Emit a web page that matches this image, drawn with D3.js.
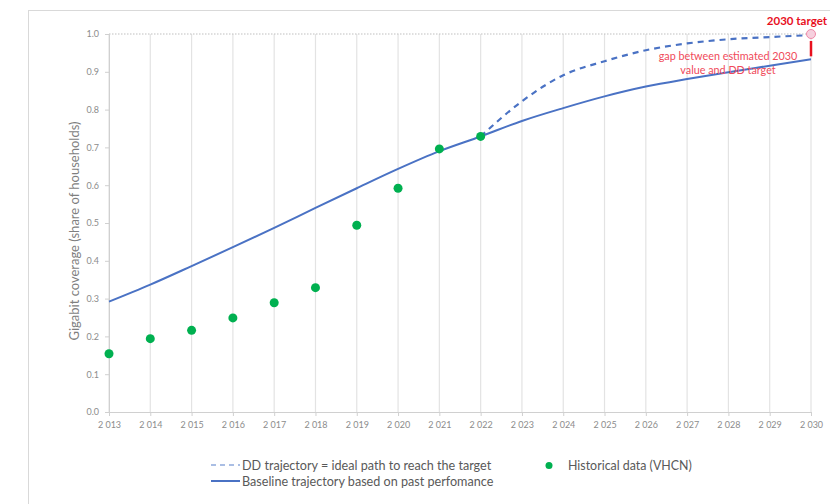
<!DOCTYPE html>
<html>
<head>
<meta charset="utf-8">
<script src="https://cdn.jsdelivr.net/npm/d3@7"></script>
<style>
  body { margin: 0; background: #fff; }
  text { font-family: Lato, "Open Sans", sans-serif; }
</style>
</head>
<body>
<div id="visualize"></div>
<script>
// Chart size
const width = 830;
const height = 504;

// Years on the x axis
const years = d3.range(2013, 2031);
const yTicks = [0, 0.1, 0.2, 0.3, 0.4, 0.5, 0.6, 0.7, 0.8, 0.9, 1.0];

// Historical data (VHCN)
const histYears = [2013, 2014, 2015, 2016, 2017, 2018, 2019, 2020, 2021, 2022];
const histValues = [0.154, 0.194, 0.216, 0.249, 0.289, 0.329, 0.494, 0.592, 0.696, 0.729];

// Baseline trajectory based on past performance
const baseYears = years;
const baseValues = [0.292, 0.337, 0.386, 0.436, 0.487, 0.54, 0.592, 0.643, 0.69, 0.729,
                    0.77, 0.804, 0.835, 0.861, 0.881, 0.899, 0.916, 0.933];

// DD trajectory = ideal path to reach the target
const ddYears = [2022, 2023, 2024, 2025, 2026, 2027, 2028, 2029, 2030];
const ddValues = [0.729, 0.822, 0.891, 0.928, 0.957, 0.975, 0.986, 0.992, 0.997];

const targetYear = 2030;
const targetValue = 1.0;

const svg = d3.select("#visualize")
    .append("svg")
    .attr("width", width)
    .attr("height", height);

// outer frame of the chart area
svg.append("rect")
    .attr("x", 28.5).attr("y", 10.5)
    .attr("width", 830).attr("height", 520)
    .attr("fill", "none")
    .attr("stroke", "#d9d9d9");

const x = d3.scaleLinear().domain([2013, 2030]).range([109, 811]);
const y = d3.scaleLinear().domain([0, 1]).range([412, 34]);

// vertical gridlines
svg.append("g")
    .selectAll("line")
    .data(years)
    .enter().append("line")
    .attr("x1", d => x(d)).attr("x2", d => x(d))
    .attr("y1", y(1)).attr("y2", y(0))
    .attr("stroke", "#e3e3e3")
    .attr("stroke-width", 1.2);

// dotted line at 1.0
svg.append("line")
    .attr("x1", x(2013)).attr("x2", x(2030))
    .attr("y1", y(1)).attr("y2", y(1))
    .attr("stroke", "#bfbfbf")
    .attr("stroke-dasharray", "1.5,1.5");

// y axis
const yAxis = svg.append("g")
    .attr("transform", `translate(${x(2013)},0)`)
    .call(d3.axisLeft(y).tickValues(yTicks).tickFormat(d3.format(".1f")).tickSize(4).tickPadding(6));

// x axis
const xAxis = svg.append("g")
    .attr("transform", `translate(0,${y(0)})`)
    .call(d3.axisBottom(x).tickValues(years)
        .tickFormat(d => String(d).slice(0, 1) + " " + String(d).slice(1))
        .tickSize(4).tickPadding(6));

[yAxis, xAxis].forEach(g => {
    g.select(".domain").attr("stroke", "#d0d0d0");
    g.selectAll(".tick line").attr("stroke", "#d0d0d0");
    g.selectAll(".tick text")
        .attr("fill", "#8c8c8c")
        .style("font-size", "9px")
        .style("font-family", "Lato, sans-serif");
});

// y axis title
svg.append("text")
    .attr("transform", "translate(79,231) rotate(-90)")
    .attr("text-anchor", "middle")
    .attr("fill", "#7f7f7f")
    .style("font-size", "13px")
    .text("Gigabit coverage (share of households)");

const line = d3.line()
    .x(d => x(d[0]))
    .y(d => y(d[1]))
    .curve(d3.curveMonotoneX);

// baseline trajectory
svg.append("path")
    .datum(baseYears.map((d, i) => [d, baseValues[i]]))
    .attr("d", line)
    .attr("fill", "none")
    .attr("stroke", "#4a72c4")
    .attr("stroke-width", 2);

// DD trajectory
svg.append("path")
    .datum(ddYears.map((d, i) => [d, ddValues[i]]))
    .attr("d", line)
    .attr("fill", "none")
    .attr("stroke", "#4a72c4")
    .attr("stroke-width", 2.2)
    .attr("stroke-dasharray", "6,5");

// historical dots
svg.append("g")
    .selectAll("circle")
    .data(histYears.map((d, i) => [d, histValues[i]]))
    .enter().append("circle")
    .attr("cx", d => x(d[0]))
    .attr("cy", d => y(d[1]))
    .attr("r", 4.5)
    .attr("fill", "#00b050");

// gap marker at 2030
svg.append("line")
    .attr("x1", x(targetYear)).attr("x2", x(targetYear))
    .attr("y1", y(targetValue) + 7)
    .attr("y2", y(baseValues[baseValues.length - 1]) - 3)
    .attr("stroke", "#e8101e")
    .attr("stroke-width", 2.5);

svg.append("circle")
    .attr("cx", x(targetYear))
    .attr("cy", y(targetValue))
    .attr("r", 4.5)
    .attr("fill", "#f6d0de")
    .attr("stroke", "#f08aa8")
    .attr("stroke-width", 1);

svg.append("text")
    .attr("x", 827).attr("y", 25)
    .attr("text-anchor", "end")
    .attr("fill", "#e8101e")
    .style("font-size", "11.5px")
    .style("font-weight", "bold")
    .text("2030 target");

const gapText = svg.append("text")
    .attr("text-anchor", "middle")
    .attr("fill", "#f04a5a")
    .style("font-size", "10.8px");
gapText.append("tspan").attr("x", 728).attr("y", 60).text("gap between estimated 2030");
gapText.append("tspan").attr("x", 728).attr("y", 74).text("value and DD target");

// legend
const legend = svg.append("g");

legend.append("line")
    .attr("x1", 211).attr("x2", 240)
    .attr("y1", 465).attr("y2", 465)
    .attr("stroke", "#8fa9dc")
    .attr("stroke-width", 1.3)
    .attr("stroke-dasharray", "5,4");
legend.append("text")
    .attr("x", 242).attr("y", 469.5)
    .attr("fill", "#595959")
    .style("font-size", "12.6px")
    .text("DD trajectory = ideal path to reach the target");

legend.append("line")
    .attr("x1", 211).attr("x2", 240)
    .attr("y1", 481).attr("y2", 481)
    .attr("stroke", "#4a72c4")
    .attr("stroke-width", 2);
legend.append("text")
    .attr("x", 242).attr("y", 485.5)
    .attr("fill", "#595959")
    .style("font-size", "12.6px")
    .text("Baseline trajectory based on past perfomance");

legend.append("circle")
    .attr("cx", 549).attr("cy", 465.5)
    .attr("r", 3.5)
    .attr("fill", "#00b050");
legend.append("text")
    .attr("x", 568).attr("y", 469.5)
    .attr("fill", "#595959")
    .style("font-size", "12.4px")
    .text("Historical data (VHCN)");
</script>
</body>
</html>
